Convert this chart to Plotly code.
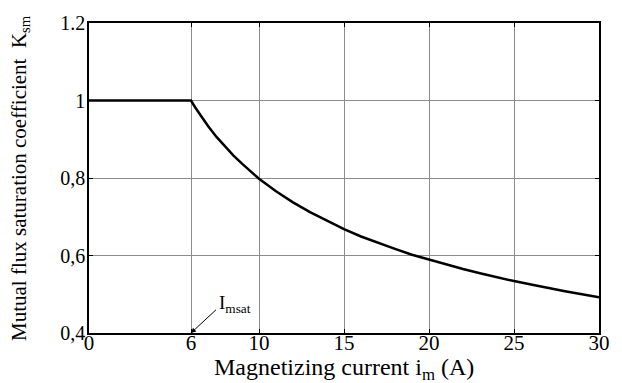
import plotly.graph_objects as go

# Data
current_a = [0, 1, 2, 3, 4, 5, 6, 6.25, 6.5, 6.75, 7, 7.5, 8, 8.5, 9, 10, 11, 12, 13, 14, 15, 16,
             17, 18, 19, 20, 21, 22, 23, 24, 25, 26, 27, 28, 29, 30]
ksm = [1.0, 1.0, 1.0, 1.0, 1.0, 1.0, 1.0, 0.982, 0.965, 0.949, 0.934, 0.906, 0.881, 0.858,
       0.837, 0.798, 0.766, 0.737, 0.712, 0.689, 0.668, 0.649, 0.632, 0.617, 0.602, 0.589,
       0.576, 0.565, 0.554, 0.543, 0.534, 0.525, 0.516, 0.508, 0.500, 0.492]

x_tickvals = [0, 6, 10, 15, 20, 25, 30]
x_ticktext = ["0", "6", "10", "15", "20", "25", "30"]
y_tickvals = [0.4, 0.6, 0.8, 1.0, 1.2]
y_ticktext = ["0,4", "0,6", "0,8", "1", "1.2"]

FONT = "Times New Roman, Liberation Serif, serif"

fig = go.Figure()
fig.add_trace(go.Scatter(x=current_a, y=ksm, mode="lines",
                         line=dict(color="black", width=2.5),
                         showlegend=False, hoverinfo="skip"))

axis_common = dict(showline=True, linecolor="black", linewidth=1.5, mirror="ticks",
                   ticks="inside", ticklen=4, tickcolor="black",
                   showgrid=True, gridcolor="#8c8c8c", gridwidth=1, zeroline=False)

fig.update_xaxes(range=[0, 30], tickmode="array", tickvals=x_tickvals, ticktext=x_ticktext,
                 ticklabelstandoff=-10, tickfont=dict(family=FONT, size=21, color="black"),
                 **axis_common)
fig.update_yaxes(range=[0.4, 1.2], tickmode="array", tickvals=y_tickvals, ticktext=y_ticktext,
                 ticklabelstandoff=-2, tickfont=dict(family=FONT, size=20, color="black"),
                 **axis_common)

annotations = [
    dict(x=0.5, y=0, xref="paper", yref="paper", yanchor="top", yshift=-19,
         text="Magnetizing current i<sub>m</sub> (A)", showarrow=False,
         font=dict(family=FONT, size=24, color="black")),
    dict(x=0, y=0.5, xref="paper", yref="paper", xanchor="center", xshift=-69,
         text="Mutual flux saturation coefficient  K<sub>sm</sub>", textangle=-90, showarrow=False,
         font=dict(family=FONT, size=21, color="black")),
    dict(x=6, y=0.4, xref="x", yref="y", ax=28, ay=-26, text=" ", showarrow=True,
         arrowhead=2, arrowsize=1, arrowwidth=1, arrowcolor="black", standoff=0),
    dict(x=7.5, y=0.475, xref="x", yref="y", text="I<sub>msat</sub>", showarrow=False,
         xanchor="left", font=dict(family=FONT, size=19, color="black")),
]

fig.update_layout(width=622, height=383, margin=dict(l=89, r=20, t=16, b=50),
                  plot_bgcolor="white", paper_bgcolor="white", annotations=annotations)

fig.write_html("out.html")
